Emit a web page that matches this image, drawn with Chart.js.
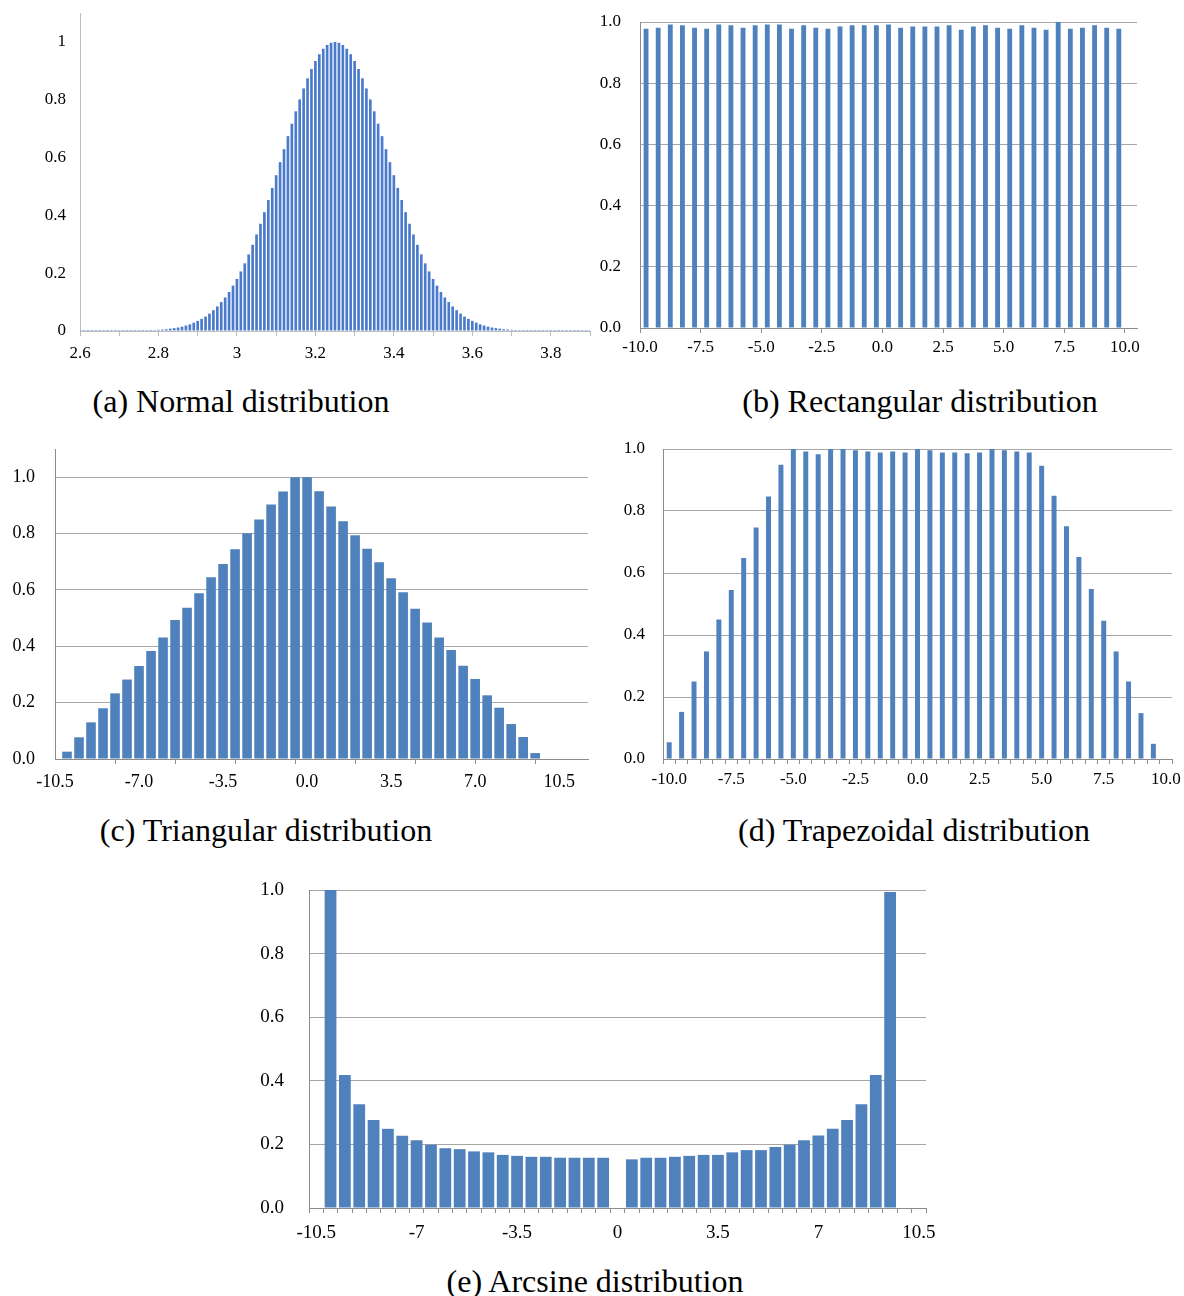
<!DOCTYPE html>
<html><head><meta charset="utf-8">
<script src="https://cdn.jsdelivr.net/npm/chart.js@4.4.1/dist/chart.umd.min.js"></script>
<style>
html,body{margin:0;padding:0;background:#fff;}
body{width:1184px;height:1296px;position:relative;overflow:hidden;font-family:'Liberation Serif','Times New Roman',serif;}
canvas{position:absolute;}
.cap{position:absolute;font-size:32px;color:#000;white-space:nowrap;transform:translate(-50%,-50%);line-height:1;}
</style></head><body>
<canvas id="ca" width="600" height="372" style="left:0px;top:0px;"></canvas>
<canvas id="cb" width="560" height="372" style="left:592px;top:0px;"></canvas>
<canvas id="cc" width="600" height="362" style="left:0px;top:440px;"></canvas>
<canvas id="cd" width="584" height="372" style="left:600px;top:430px;"></canvas>
<canvas id="ce" width="700" height="382" style="left:240px;top:870px;"></canvas>
<div class="cap" style="left:241px;top:401px;">(a) Normal distribution</div>
<div class="cap" style="left:920px;top:401px;">(b) Rectangular distribution</div>
<div class="cap" style="left:266px;top:830px;">(c) Triangular distribution</div>
<div class="cap" style="left:914px;top:830px;">(d) Trapezoidal distribution</div>
<div class="cap" style="left:595px;top:1281px;">(e) Arcsine distribution</div>
<script>
// ---------- (a) Normal distribution ----------
const normalX = [
2.60,2.61,2.62,2.63,2.64,2.65,2.66,2.67,2.68,2.69,
2.70,2.71,2.72,2.73,2.74,2.75,2.76,2.77,2.78,2.79,
2.80,2.81,2.82,2.83,2.84,2.85,2.86,2.87,2.88,2.89,
2.90,2.91,2.92,2.93,2.94,2.95,2.96,2.97,2.98,2.99,
3.00,3.01,3.02,3.03,3.04,3.05,3.06,3.07,3.08,3.09,
3.10,3.11,3.12,3.13,3.14,3.15,3.16,3.17,3.18,3.19,
3.20,3.21,3.22,3.23,3.24,3.25,3.26,3.27,3.28,3.29,
3.30,3.31,3.32,3.33,3.34,3.35,3.36,3.37,3.38,3.39,
3.40,3.41,3.42,3.43,3.44,3.45,3.46,3.47,3.48,3.49,
3.50,3.51,3.52,3.53,3.54,3.55,3.56,3.57,3.58,3.59,
3.60,3.61,3.62,3.63,3.64,3.65,3.66,3.67,3.68,3.69,
3.70,3.71,3.72,3.73,3.74,3.75,3.76,3.77,3.78,3.79,
3.80,3.81,3.82,3.83,3.84,3.85,3.86,3.87,3.88,3.89,
3.90];
const normalY = [
0,0,0,0,0,0,0,0,0,0,0,0,0,0,0,
0.001,0.001,0.002,0.002,0.003,0.004,0.005,0.006,0.008,0.010,
0.012,0.015,0.019,0.023,0.029,0.035,0.042,0.050,0.060,0.072,
0.085,0.100,0.116,0.135,0.157,0.180,0.206,0.234,0.265,0.298,
0.334,0.371,0.411,0.453,0.495,0.539,0.584,0.629,0.674,0.717,
0.760,0.801,0.839,0.874,0.906,0.934,0.957,0.976,0.989,0.997,
1.000,
0.997,0.989,0.976,0.957,0.934,0.906,0.874,0.839,0.801,0.760,
0.717,0.674,0.629,0.584,0.539,0.495,0.453,0.411,0.371,0.334,
0.298,0.265,0.234,0.206,0.180,0.157,0.135,0.116,0.100,0.085,
0.072,0.060,0.050,0.042,0.035,0.029,0.023,0.019,0.015,0.012,
0.010,0.008,0.006,0.005,0.004,0.003,0.002,0.002,0.001,0.001,
0,0,0,0,0,0,0,0,0,0,0,0,0,0,0];
const normalTickMarks = [2.6,2.7,2.8,2.9,3.0,3.1,3.2,3.3,3.4,3.5,3.6,3.7,3.8,3.9];
const normalXLabelVals = [2.6,2.8,3.0,3.2,3.4,3.6,3.8];
const normalXLabels = ['2.6','2.8','3','3.2','3.4','3.6','3.8'];
const normalYLabelVals = [0,0.2,0.4,0.6,0.8,1.0];
const normalYLabels = ['0','0.2','0.4','0.6','0.8','1'];

// ---------- (b) Rectangular distribution ----------
const rectX = [-9.75,-9.25,-8.75,-8.25,-7.75,-7.25,-6.75,-6.25,-5.75,-5.25,
  -4.75,-4.25,-3.75,-3.25,-2.75,-2.25,-1.75,-1.25,-0.75,-0.25,
  0.25,0.75,1.25,1.75,2.25,2.75,3.25,3.75,4.25,4.75,
  5.25,5.75,6.25,6.75,7.25,7.75,8.25,8.75,9.25,9.75];
const rectY = [0.978,0.981,0.992,0.989,0.981,0.978,0.992,0.989,0.981,0.989,
  0.992,0.992,0.978,0.989,0.981,0.978,0.985,0.989,0.989,0.989,
  0.992,0.981,0.985,0.985,0.985,0.989,0.975,0.985,0.989,0.981,
  0.978,0.989,0.981,0.975,1.000,0.978,0.981,0.989,0.981,0.978];
const rectXLabelVals = [-10,-7.5,-5,-2.5,0,2.5,5,7.5,10];
const rectXLabels = ['-10.0','-7.5','-5.0','-2.5','0.0','2.5','5.0','7.5','10.0'];

// shared bin centres for (c), (d), (e)
const binX = [-10,-9.5,-9,-8.5,-8,-7.5,-7,-6.5,-6,-5.5,
  -5,-4.5,-4,-3.5,-3,-2.5,-2,-1.5,-1,-0.5,
  0,0.5,1,1.5,2,2.5,3,3.5,4,4.5,
  5,5.5,6,6.5,7,7.5,8,8.5,9,9.5];

// ---------- (c) Triangular distribution ----------
const triY = [0.026,0.077,0.130,0.180,0.233,0.282,0.330,0.383,0.431,0.493,
  0.537,0.588,0.645,0.692,0.744,0.801,0.850,0.903,0.949,1.000,
  1.000,0.950,0.896,0.844,0.794,0.746,0.698,0.641,0.592,0.533,
  0.484,0.431,0.387,0.331,0.284,0.226,0.182,0.124,0.078,0.021];
const triTickMarks = [-8,-5.5,-3,-0.5,2,4.5,7,9.5];
const triXLabelVals = [-10.5,-7,-3.5,0,3.5,7,10.5];
const triXLabels = ['-10.5','-7.0','-3.5','0.0','3.5','7.0','10.5'];

// ---------- (d) Trapezoidal distribution ----------
const trapY = [0.054,0.152,0.250,0.347,0.450,0.545,0.648,0.747,0.847,0.949,
  1.000,0.992,0.983,1.000,1.000,0.996,0.992,0.989,0.992,0.989,
  1.000,0.996,0.989,0.989,0.986,0.989,1.000,0.996,0.992,0.989,
  0.946,0.849,0.751,0.652,0.548,0.446,0.347,0.250,0.148,0.049];
const trapXLabelVals = [-10,-7.5,-5,-2.5,0,2.5,5,7.5,10];
const trapXLabels = ['-10.0','-7.5','-5.0','-2.5','0.0','2.5','5.0','7.5','10.0'];

// ---------- (e) Arcsine distribution ----------
const arcY = [1.000,0.418,0.326,0.277,0.249,0.227,0.213,0.199,0.188,0.185,
  0.178,0.175,0.167,0.164,0.161,0.161,0.158,0.158,0.158,0.158,
  null,0.153,0.158,0.158,0.161,0.164,0.167,0.167,0.175,0.182,
  0.182,0.192,0.199,0.213,0.228,0.249,0.277,0.326,0.418,0.994];
const arcXLabelVals = [-10.5,-7,-3.5,0,3.5,7,10.5];
const arcXLabels = ['-10.5','-7','-3.5','0','3.5','7','10.5'];

const yLabelVals = [0,0.2,0.4,0.6,0.8,1.0];
const yLabels = ['0.0','0.2','0.4','0.6','0.8','1.0'];

// tick-mark positions at bin boundaries (axis decoration only)
function boundaries(start, end, step) {
  const out = [];
  for (let v = start; v <= end + 1e-9; v += step) out.push(Math.round(v * 1000) / 1000);
  return out;
}

const FONT = "'Liberation Serif','Times New Roman',serif";

function makeChart(id, cfg) {
  const near = (a, b) => Math.abs(a - b) < 1e-6;
  const isMark = v => cfg.marks.some(m => near(m, v));
  const tickVals = Array.from(new Set([...cfg.marks, ...cfg.labelVals].map(v => Math.round(v * 1000) / 1000))).sort((a, b) => a - b);
  const labelFor = v => { const i = cfg.labelVals.findIndex(l => near(l, v)); return i >= 0 ? cfg.labelStrs[i] : ''; };
  const yLabelFor = v => { const i = cfg.yVals.findIndex(l => near(l, v)); return i >= 0 ? cfg.yStrs[i] : ''; };
  const data = cfg.x.map((x, i) => ({ x: x, y: cfg.y[i] }));
  return new Chart(document.getElementById(id), {
    type: 'bar',
    data: { datasets: [{ data: data, backgroundColor: cfg.color, borderWidth: 0,
      barPercentage: cfg.barPct, categoryPercentage: cfg.catPct || 1, minBarLength: cfg.minBar || 0 }] },
    options: {
      responsive: false, animation: false, devicePixelRatio: 1,
      layout: { padding: { top: cfg.pt, right: cfg.pr, left: 0, bottom: 0 } },
      plugins: { legend: { display: false }, tooltip: { enabled: false } },
      scales: {
        x: {
          type: 'linear', min: cfg.xMin, max: cfg.xMax, offset: false,
          afterBuildTicks: s => { s.ticks = tickVals.map(v => ({ value: v })); },
          afterFit: s => { s.height = cfg.xh; },
          ticks: { autoSkip: false, maxRotation: 0, minRotation: 0, padding: cfg.xPad, color: '#000',
            font: { family: FONT, size: cfg.fs }, callback: v => labelFor(v) },
          grid: { offset: false, drawOnChartArea: false, drawTicks: true, tickLength: 5,
            color: c => (c.tick && isMark(c.tick.value)) ? cfg.axisColor : 'rgba(0,0,0,0)' },
          border: { display: true, color: cfg.axisColor, width: 1 }
        },
        y: {
          type: 'linear', min: 0, max: cfg.yMax,
          afterBuildTicks: s => { s.ticks = cfg.yVals.map(v => ({ value: v })); },
          afterFit: s => { s.width = cfg.yw; s.paddingTop = 0; s.paddingBottom = 0; },
          ticks: { padding: cfg.yPad, color: '#000', font: { family: FONT, size: cfg.fs }, callback: v => yLabelFor(v) },
          grid: { display: true, drawOnChartArea: cfg.yGrid, drawTicks: false, color: cfg.gridColor, lineWidth: 1 },
          border: { display: true, color: cfg.axisColor, width: 1 }
        }
      }
    }
  });
}

makeChart('ca', { x: normalX, y: normalY, color: '#4a7acb', barPct: 0.68, minBar: 1,
  xMin: 2.6, xMax: 3.9, marks: normalTickMarks, labelVals: normalXLabelVals, labelStrs: normalXLabels,
  yMax: 1.1, yVals: normalYLabelVals, yStrs: normalYLabels, yGrid: false,
  yw: 80, xh: 41, pt: 13, pr: 10, xPad: 7, yPad: 14, fs: 17, axisColor: '#bdbdbd', gridColor: '#bdbdbd' });

makeChart('cb', { x: rectX, y: rectY, color: '#4f81bd', barPct: 0.4,
  xMin: -10, xMax: 10.5, marks: rectXLabelVals, labelVals: rectXLabelVals, labelStrs: rectXLabels,
  yMax: 1.0, yVals: yLabelVals, yStrs: yLabels, yGrid: true,
  yw: 48, xh: 44, pt: 22, pr: 15, xPad: 4, yPad: 19, fs: 17, axisColor: '#8c8c8c', gridColor: '#a6a6a6' });

makeChart('cc', { x: binX, y: triY, color: '#4f81bd', barPct: 0.8,
  xMin: -10.5, xMax: 11.7, marks: triTickMarks, labelVals: triXLabelVals, labelStrs: triXLabels,
  yMax: 1.1, yVals: yLabelVals, yStrs: yLabels, yGrid: true,
  yw: 55, xh: 43, pt: 9, pr: 12, xPad: 7, yPad: 20, fs: 18, axisColor: '#8c8c8c', gridColor: '#a6a6a6' });

makeChart('cd', { x: binX, y: trapY, color: '#4f81bd', barPct: 0.4, catPct: 2,
  xMin: -10.25, xMax: 10.25, marks: boundaries(-10.25, 10.25, 0.5), labelVals: trapXLabelVals, labelStrs: trapXLabels,
  yMax: 1.0, yVals: yLabelVals, yStrs: yLabels, yGrid: true,
  yw: 63, xh: 43, pt: 19, pr: 12, xPad: 5, yPad: 18, fs: 17, axisColor: '#8c8c8c', gridColor: '#a6a6a6' });

makeChart('ce', { x: binX, y: arcY, color: '#4f81bd', barPct: 0.82, catPct: 2,
  xMin: -10.75, xMax: 10.75, marks: boundaries(-10.75, 10.75, 0.5), labelVals: arcXLabelVals, labelStrs: arcXLabels,
  yMax: 1.0, yVals: yLabelVals, yStrs: yLabels, yGrid: true,
  yw: 69, xh: 44, pt: 20, pr: 14, xPad: 9, yPad: 25, fs: 19, axisColor: '#8c8c8c', gridColor: '#a6a6a6' });
</script>
</body></html>
